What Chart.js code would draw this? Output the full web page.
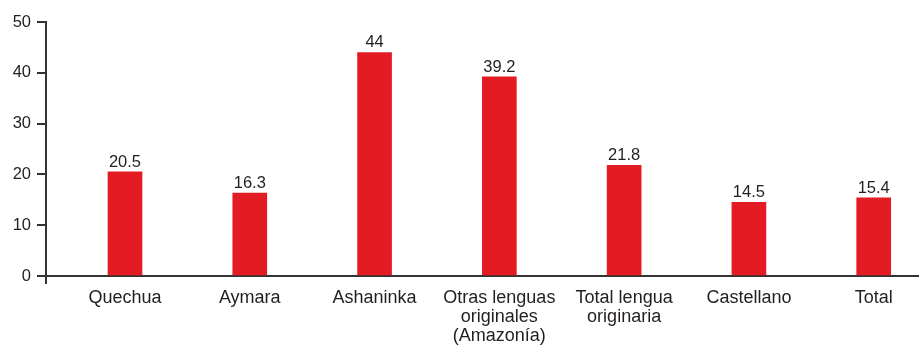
<!DOCTYPE html>
<html lang="es">
<head>
<meta charset="utf-8">
<script src="https://cdn.jsdelivr.net/npm/chart.js@4/dist/chart.umd.min.js"></script>
<style>
    html, body { margin: 0; padding: 0; background: #fff; }
    #wrap { width: 919px; height: 345px; }
</style>
</head>
<body>
<div id="wrap"><canvas id="grafico"></canvas></div>
<script>
const categorias = [
    "Quechua",
    "Aymara",
    "Ashaninka",
    ["Otras lenguas", "originales", "(Amazonía)"],
    ["Total lengua", "originaria"],
    "Castellano",
    "Total",
];
const valores = [20.5, 16.3, 44, 39.2, 21.8, 14.5, 15.4];
const ticksY = [0, 10, 20, 30, 40, 50];

const corTexto = "#231f20";
const corEixo = "#333333";
const corBarra = "#e31b23";
const fonte = "'Liberation Sans', Arial, sans-serif";

// rótulo com o valor em cima de cada barra
const rotulosBarras = {
    id: "rotulosBarras",
    afterDatasetsDraw(chart) {
        const { ctx } = chart;
        const meta = chart.getDatasetMeta(0);
        ctx.save();
        ctx.font = "16.5px " + fonte;
        ctx.fillStyle = corTexto;
        ctx.textAlign = "center";
        ctx.textBaseline = "alphabetic";
        meta.data.forEach((barra, i) => {
            ctx.fillText(String(valores[i]), barra.x, barra.y - 5);
        });
        ctx.restore();
    }
};

// pequeno prolongamento do eixo Y abaixo do eixo X
const pontaEixo = {
    id: "pontaEixo",
    afterDraw(chart) {
        const { ctx, chartArea } = chart;
        ctx.save();
        ctx.strokeStyle = corEixo;
        ctx.lineWidth = 2;
        ctx.beginPath();
        ctx.moveTo(chartArea.left, chartArea.bottom);
        ctx.lineTo(chartArea.left, chartArea.bottom + 8);
        ctx.stroke();
        ctx.restore();
    }
};

new Chart(document.getElementById("grafico"), {
    type: "bar",
    data: {
        datasets: [{
            data: valores.map((v, i) => ({ x: i, y: v })),
            backgroundColor: corBarra,
            barThickness: 34,
        }],
    },
    options: {
        responsive: true,
        maintainAspectRatio: false,
        animation: false,
        layout: { padding: { top: 22, right: 0, left: 0, bottom: 0 } },
        plugins: {
            legend: { display: false },
            tooltip: { enabled: false },
        },
        scales: {
            x: {
                type: "linear",
                offset: false,
                min: -0.633,
                max: 6.363,
                afterBuildTicks: (eixo) => {
                    eixo.ticks = categorias.map((_, i) => ({ value: i }));
                },
                afterFit: (eixo) => { eixo.height = 69; },
                grid: { display: false },
                border: { display: true, color: corEixo, width: 2 },
                ticks: {
                    autoSkip: false,
                    maxRotation: 0,
                    padding: 5,
                    color: corTexto,
                    font: { size: 18, family: fonte, lineHeight: 1.04 },
                    callback: (v) => categorias[v],
                },
            },
            y: {
                min: 0,
                max: 50,
                afterBuildTicks: (eixo) => {
                    eixo.ticks = ticksY.map(v => ({ value: v }));
                },
                afterFit: (eixo) => { eixo.width = 46; },
                grid: {
                    display: true,
                    drawOnChartArea: false,
                    drawTicks: true,
                    tickLength: 9,
                    color: corEixo,
                    lineWidth: 2,
                },
                border: { display: true, color: corEixo, width: 2 },
                ticks: {
                    padding: 6,
                    color: corTexto,
                    font: { size: 16.5, family: fonte },
                },
            },
        },
    },
    plugins: [rotulosBarras, pontaEixo],
});
</script>
</body>
</html>
